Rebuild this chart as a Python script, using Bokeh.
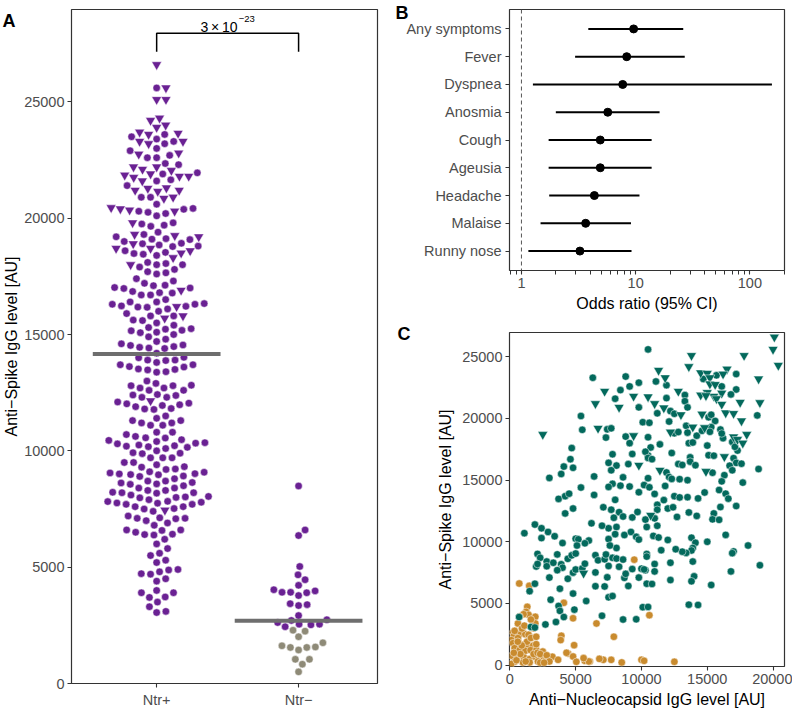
import numpy as np
from bokeh.plotting import figure
from bokeh.models import Range1d, FixedTicker, Label, Span, FactorRange, BasicTickFormatter, ColumnDataSource
from bokeh.layouts import row, column
from bokeh.embed import file_html
from bokeh.resources import INLINE
from bokeh.core.properties import value

FONT = "Liberation Sans"
TICK_COL = "#4D4D4D"
BORDER = "#333333"
PURPLE = "#6A2193"
GRAY_PT = "#8E8A77"
TEAL = "#03695C"
ORANGE = "#C98B2E"
MED_COL = "#6E6E6E"

# ---------------- data ----------------
# Ntr+ participants: (anti-nucleocapsid, anti-spike), circles
pos_circles = [
    (10500, 25600), (6300, 23300), (8800, 23400), (9800, 22900), (9100, 22600), (11100, 23000), (14700, 23200),
    (15700, 23500), (17200, 23600), (8400, 22300), (11900, 22700), (16100, 22600), (17200, 22350),
    (13300, 21900), (16800, 21950), (8000, 21600), (9800, 20900), (11900, 21650), (13300, 21400), (5400, 20200),
    (12200, 20600), (12500, 20380), (13500, 20900), (15100, 20100), (15300, 20300), (18800, 20250), (11200, 20420),
    (10100, 19700), (10600, 19650), (15600, 19800), (5500, 19080), (7400, 19120), (7700, 19200), (7300, 18450),
    (8800, 18530), (9100, 18000), (10500, 18480), (12100, 19750), (12500, 18800), (12800, 18900), (13400, 19400),
    (13500, 18850), (13600, 18000), (13900, 18050), (14200, 18600), (14600, 19000), (15300, 19300), (15200, 18920),
    (16000, 19100), (16200, 18400), (16100, 18780), (16900, 18100), (17300, 17400), (17100, 17700), (4700, 17600),
    (11400, 17900), (10700, 17650), (10500, 17000), (12300, 17200), (15000, 17800), (15100, 17020), (15500, 16980),
    (7800, 17100), (10300, 17300), (9300, 17120),
    (4600, 16700), (4100, 16100), (4800, 16000), (3900, 15500), (3000, 15180), (5400, 14400), (6400, 15300),
    (7500, 16400), (8100, 16180), (7700, 15800), (7800, 14700), (7500, 14450), (8400, 14550), (8600, 15230),
    (9100, 14480), (9000, 16300), (10500, 16800), (10800, 16700), (10500, 15160), (10200, 14600), (12800, 16300),
    (13100, 16230), (13700, 16850), (13700, 16500), (14100, 16210), (17000, 16780), (17200, 16400), (17600, 16330),
    (18900, 15900), (16700, 16170), (16900, 15800), (16300, 15400), (16100, 14900), (17700, 14800), (15400, 15600),
    (14800, 14000), (11900, 15620), (12100, 15250), (12300, 15100), (12900, 15080), (13500, 15000), (10600, 14420),
    (11800, 14530), (15900, 14200),
    (9800, 14020), (3700, 13480), (4200, 13700), (4500, 13900), (6400, 13800), (8000, 13400), (11000, 13880),
    (12500, 13700), (12900, 13600), (13500, 13620), (14300, 13520), (16400, 13900), (16600, 13500), (11700, 13380),
    (4800, 12700), (4200, 12300), (7100, 12800), (7700, 12600), (8300, 12400), (7900, 11950), (8600, 12050),
    (9300, 11980), (9700, 12420), (10300, 11800), (17200, 12900), (16000, 12820), (15500, 12300), (15400, 11820),
    (15900, 11780), (14200, 12100), (13600, 12380), (12700, 12020), (12000, 12700), (12400, 12800), (11200, 13000),
    (11200, 12600), (11000, 11900), (10400, 11200), (11200, 11300), (1900, 11400), (2400, 11100), (2900, 10800),
    (3400, 10450), (1100, 10700), (2400, 10300), (5000, 10250), (5200, 10200), (7500, 11100), (7000, 11300),
    (8100, 11200), (8700, 10550), (9200, 10800), (9600, 10400), (9800, 10180), (7500, 10220), (8000, 10620),
    (10900, 10480), (11300, 10350), (12000, 10150), (13800, 10330), (15000, 10000), (16400, 10560), (6200, 11500),
    (6000, 10100),
    (4000, 9900), (5100, 9700), (5700, 9880), (14100, 9920), (13900, 9500), (13800, 9300), (13400, 9100),
    (13100, 9200), (12600, 9400), (11500, 9320), (10400, 9010), (10400, 8800), (17000, 9220), (16900, 9080),
    (18100, 9700), (19000, 8100), (16800, 7600), (13900, 8400), (14000, 7200), (13800, 6800), (15300, 6500),
    (12200, 8300), (11000, 8200), (11000, 7600), (10300, 7700), (10400, 6600), (10800, 6580), (12200, 6900),
    (2100, 9020), (2300, 8700), (2000, 8000), (2100, 8200), (2800, 8400), (2800, 8020), (3600, 8980), (3300, 8300),
    (3900, 8180), (4000, 7900), (4400, 8620), (4700, 8900), (5000, 9050), (4800, 7500), (5000, 7750), (5500, 7830),
    (5700, 8220), (3600, 7700), (3000, 7100), (4400, 7000), (3800, 6200), (6500, 8920), (6700, 8500), (7200, 8580),
    (7300, 8970), (7800, 8700), (8100, 8640), (8600, 8560), (8300, 7980), (7500, 8040), (6500, 7520), (7400, 7120),
    (6500, 6400), (7200, 6380), (8700, 7080), (8800, 7400), (9000, 6420), (9300, 7790), (9800, 7100), (10000, 7820),
    (10200, 7760), (1900, 6600), (1500, 6000), (8100, 9500), (7600, 9700),
    (4800, 5800), (7500, 5500), (7800, 5600), (3700, 4800), (3800, 4400), (4100, 3900), (4900, 4500), (3500, 3500),
    (7000, 4000), (8600, 3700), (9600, 3720), (10100, 4700), (10500, 4720), (13600, 4900), (14300, 4880),
    (1600, 3100), (1900, 3050), (700, 3900), (3100, 5300), (2700, 3300), (5800, 5200),
]
# Ntr+ participants drawn as inverted triangles
pos_triangles = [
    (20100, 26600), (20000, 25600), (20400, 24300), (13800, 25100), (17800, 25100), (13600, 24200), (11300, 23900),
    (11800, 23300), (14500, 23700), (15000, 23650), (15200, 23300), (16500, 24000), (16200, 23600), (18900, 23200),
    (7200, 22200), (12800, 22200), (15200, 22800), (15600, 22750), (15000, 22100), (16100, 22050), (15500, 21800),
    (17500, 21300), (19000, 21280), (6500, 21200), (9400, 21800), (10500, 21750), (8300, 20900), (11000, 21200),
    (14500, 21900), (14900, 21850), (15700, 21600), (16100, 21150), (11700, 20850), (13000, 20300), (14600, 20350),
    (16400, 20450), (17000, 20400), (17600, 19800), (6700, 19200), (2500, 18700), (9400, 18600), (12200, 18900),
    (13900, 19300), (14800, 19250), (17000, 18500), (17300, 18300), (18000, 18700), (17700, 18000), (9800, 16200),
    (16300, 16900), (14900, 15700), (11400, 15800), (10700, 12150), (5600, 7450),
]
# other participants in panel C (orange)
other_points = [
    (1320, 4730), (1240, 4320), (1420, 4080), (1930, 3920), (610, 3380), (1930, 3380), (1800, 3000), (230, 2650),
    (300, 2380), (740, 2510), (1170, 2510), (1420, 2460), (610, 2190), (100, 2030), (230, 1780), (610, 1840),
    (990, 1650), (1370, 1650), (1750, 1570), (360, 1380), (740, 1220), (1170, 1160), (1570, 1220), (2010, 1220),
    (150, 760), (610, 680), (1070, 620), (1500, 490), (1930, 680), (2390, 620), (2770, 490), (360, 270), (990, 220),
    (1500, 220), (2130, 300), (3230, 680), (3660, 430), (4420, 950), (4800, 700), (5050, 270), (5690, 350),
    (6070, 300), (3910, 2380), (3860, 2030), (4880, 1620), (6580, 3380), (710, 6620), (1470, 6430), (920, 2970),
    (360, 2780), (1040, 4130), (740, 3940), (9450, 8550), (10600, 4050), (7900, 2300), (12500, 270), (10000, 430),
    (10200, 350), (8500, 220), (7700, 430), (7100, 430), (6800, 510), (6000, 300), (5600, 570), (4100, 5050),
    (4800, 3800), (4300, 1000), (100, 100), (500, 400), (800, 900), (1200, 300), (1800, 900), (2100, 1000),
    (2500, 1100), (2300, 200), (1300, 1900), (900, 1600), (1600, 2200), (2000, 1700), (300, 1000), (600, 1900),
    (1100, 3200), (1600, 3700), (2000, 2300), (2300, 900), (2800, 800), (3000, 300), (2600, 200),
]
# Panel A, Ntr- group anti-spike values
ntr_neg_spike = [8490, 6600, 6360, 5030, 4670, 4460, 4220, 4030, 3980, 3920, 3920, 3900, 3780, 3430, 3390, 3350,
                 2920, 2740, 2710, 2620, 2550, 2550, 2520, 2440, 2290, 2250, 2010, 1750, 1620, 1570, 1550, 1550,
                 1440, 1040, 1040, 830, 500]
neg_cutoff = 2400
groups = ["Ntr+", "Ntr\u2212"]
group_medians = [14160, 2700]
p_value_text = "3\u2009\u00d7\u200910"
p_value_exp = "\u221223"
bracket_top = 27950
bracket_bottom = 27150

# Panel B
symptoms = ["Any symptoms", "Fever", "Dyspnea", "Anosmia", "Cough", "Ageusia", "Headache", "Malaise", "Runny nose"]
odds_ratio = [9.6, 8.35, 7.7, 5.7, 4.9, 4.9, 4.35, 3.65, 3.25]
ci_low = [3.85, 2.95, 1.26, 2.0, 1.73, 1.73, 1.75, 1.47, 1.15]
ci_high = [26.1, 26.9, 156, 16.2, 13.8, 13.8, 10.8, 9.1, 9.2]


def style(p):
    p.outline_line_color = BORDER
    p.outline_line_width = 1.2
    p.xgrid.visible = False
    p.ygrid.visible = False
    p.background_fill_color = "white"
    p.border_fill_color = "white"
    for ax in list(p.xaxis) + list(p.yaxis):
        ax.axis_line_color = None
        ax.major_tick_line_color = BORDER
        ax.major_tick_line_width = 1.1
        ax.major_tick_out = 4
        ax.major_tick_in = 0
        ax.minor_tick_line_color = None
        ax.major_label_text_font = FONT
        ax.major_label_text_font_size = "14.5px"
        ax.major_label_text_color = TICK_COL
        ax.axis_label_text_font = FONT
        ax.axis_label_text_font_size = "16px"
        ax.axis_label_text_font_style = "normal"
        ax.axis_label_text_color = "black"
        ax.major_label_standoff = 3
        ax.axis_label_standoff = 4


def panel_label(p, text, cx, cy, side):
    kw = dict(text=text, text_font=FONT, text_font_style="bold", text_font_size="18px",
              text_baseline="top", text_align="left", text_color="black")
    try:
        lab = Label(x=cx, y=cy, x_units="canvas", y_units="canvas", **kw)
    except Exception:
        lab = Label(x=cx, y=p.height - cy, x_units="screen", y_units="screen", **kw)
    p.add_layout(lab, side)


def swarm(vals, d_px, px_per_val):
    vals = np.asarray(vals, dtype=float)
    ys = vals * px_per_val
    order = np.argsort(vals, kind="stable")
    px_, py_ = [], []
    offs = np.zeros(len(vals))
    for i in order:
        y = ys[i]
        near = [(a, b) for a, b in zip(px_, py_) if abs(b - y) < d_px]
        cands = [0.0]
        for a, b in near:
            dx = np.sqrt(max(d_px ** 2 - (b - y) ** 2, 0.0))
            cands += [a + dx, a - dx]
        cands.sort(key=lambda c: (round(abs(c), 6), -c))
        chosen = 0.0
        for c in cands:
            if all((c - a) ** 2 + (y - b) ** 2 >= d_px ** 2 - 1e-6 for a, b in near):
                chosen = c
                break
        offs[i] = chosen
        px_.append(chosen)
        py_.append(y)
    return offs


# ---------------- Panel A ----------------
A_W, A_H = 390, 710
A_L, A_R, A_T, A_B = 71, 13, 9, 23
a_xmin, a_xmax = -0.1, 2.056
a_ymax = 28970
pA = figure(width=A_W, height=A_H, x_range=Range1d(a_xmin, a_xmax), y_range=Range1d(0, a_ymax),
            output_backend="svg", toolbar_location=None,
            min_border_left=A_L, min_border_right=A_R, min_border_top=A_T, min_border_bottom=A_B)
style(pA)
fw = A_W - A_L - A_R
fh = A_H - A_T - A_B
px_per_val = fh / a_ymax
px_per_x = fw / (a_xmax - a_xmin)
centers = [i + 0.5 for i in range(len(groups))]

pos_all = pos_circles + pos_triangles
pos_marker = ["circle"] * len(pos_circles) + ["inverted_triangle"] * len(pos_triangles)
pos_size = [7.5] * len(pos_circles) + [10] * len(pos_triangles)
pos_spike = [s for _, s in pos_all]
D_SWARM = 9.3
offs_pos = swarm(pos_spike, D_SWARM, px_per_val) / px_per_x
srcA1 = ColumnDataSource(dict(x=centers[0] + offs_pos, y=pos_spike, marker=pos_marker, size=pos_size))
pA.scatter(x="x", y="y", marker="marker", size="size", source=srcA1, fill_color=PURPLE,
           line_color="white", line_width=0.5)

offs_neg = swarm(ntr_neg_spike, 8.6, px_per_val) / px_per_x
neg_cols = [PURPLE if v >= neg_cutoff else GRAY_PT for v in ntr_neg_spike]
srcA2 = ColumnDataSource(dict(x=centers[1] + offs_neg, y=ntr_neg_spike, c=neg_cols))
pA.scatter(x="x", y="y", size=7.5, source=srcA2, fill_color="c", line_color="white", line_width=0.5)

pA.segment(x0=[c - 0.45 for c in centers], y0=group_medians, x1=[c + 0.45 for c in centers], y1=group_medians,
           line_width=4, line_color=MED_COL)

pA.line(x=[centers[0], centers[0], centers[1], centers[1]],
        y=[bracket_bottom, bracket_top, bracket_top, bracket_bottom], line_color="black", line_width=1.5)
mid = (centers[0] + centers[1]) / 2
pA.text(x=[mid + 0.07], y=[28230], text=[p_value_text], text_align="right", text_baseline="alphabetic",
        text_font=value(FONT), text_font_size="14px", text_color="black")
pA.text(x=[mid + 0.078], y=[28560], text=[p_value_exp], text_align="left", text_baseline="alphabetic",
        text_font=value(FONT), text_font_size="9.5px", text_color="black")

pA.xaxis.ticker = FixedTicker(ticks=centers)
pA.xaxis.major_label_overrides = {c: g for c, g in zip(centers, groups)}
pA.yaxis.ticker = FixedTicker(ticks=[0, 5000, 10000, 15000, 20000, 25000])
pA.xaxis.major_label_standoff = 4
pA.yaxis.major_label_standoff = 3
pA.yaxis.axis_label = "Anti\u2212Spike IgG level [AU]"
pA.yaxis.axis_label_standoff = 1
panel_label(pA, "A", 2, 10, "right")

# ---------------- Panel B ----------------
B_W, B_H = 402, 315
B_L, B_R, B_T, B_B = 118, 7, 9, 45
pB = figure(width=B_W, height=B_H, x_axis_type="log", x_range=Range1d(0.786, 201),
            y_range=FactorRange(factors=symptoms[::-1], range_padding=0.2, range_padding_units="absolute"),
            output_backend="svg", toolbar_location=None,
            min_border_left=B_L, min_border_right=B_R, min_border_top=B_T, min_border_bottom=B_B)
style(pB)
pB.add_layout(Span(location=1, dimension="height", line_dash="4 3", line_color="#555555", line_width=1))
pB.segment(x0=ci_low, y0=symptoms, x1=ci_high, y1=symptoms, line_color="black", line_width=2)
pB.scatter(x=odds_ratio, y=symptoms, size=8, fill_color="black", line_color="black")
minor = [0.8, 0.9] + [k for k in range(2, 10)] + [10 * k for k in range(2, 10)] + [200]
pB.xaxis.ticker = FixedTicker(ticks=[1, 10, 100], minor_ticks=minor)
pB.xaxis.formatter = BasicTickFormatter()
pB.xaxis.minor_tick_line_color = BORDER
pB.xaxis.minor_tick_out = 4
pB.xaxis.minor_tick_in = 0
pB.xaxis.axis_label = "Odds ratio (95% CI)"
pB.yaxis.major_label_standoff = 4
pB.xaxis.major_label_standoff = 3
panel_label(pB, "B", 5, 2, "left")

# ---------------- Panel C ----------------
C_W, C_H = 402, 395
C_L, C_R, C_T, C_B = 119, 8, 17, 44
pC = figure(width=C_W, height=C_H, x_range=Range1d(-30, 20870), y_range=Range1d(-110, 26970),
            output_backend="svg", toolbar_location=None,
            min_border_left=C_L, min_border_right=C_R, min_border_top=C_T, min_border_bottom=C_B)
style(pC)
pC.scatter(x=[p[0] for p in other_points], y=[p[1] for p in other_points], size=7.5, fill_color=ORANGE,
           line_color="white", line_width=0.5)
pC.scatter(x=[p[0] for p in pos_circles], y=[p[1] for p in pos_circles], size=7.5, fill_color=TEAL,
           line_color="white", line_width=0.5)
pC.scatter(x=[p[0] for p in pos_triangles], y=[p[1] for p in pos_triangles], marker="inverted_triangle",
           size=10, fill_color=TEAL, line_color="white", line_width=0.5)
pC.xaxis.ticker = FixedTicker(ticks=[0, 5000, 10000, 15000, 20000])
pC.yaxis.ticker = FixedTicker(ticks=[0, 5000, 10000, 15000, 20000, 25000])
pC.xaxis.axis_label = "Anti\u2212Nucleocapsid IgG level [AU]"
pC.yaxis.axis_label = "Anti\u2212Spike IgG level [AU]"
pC.yaxis.axis_label_standoff = 5
panel_label(pC, "C", 7, 8, "left")

layout = row(pA, column(pB, pC, spacing=0), spacing=0)
open("out.html", "w").write(file_html(layout, INLINE))
